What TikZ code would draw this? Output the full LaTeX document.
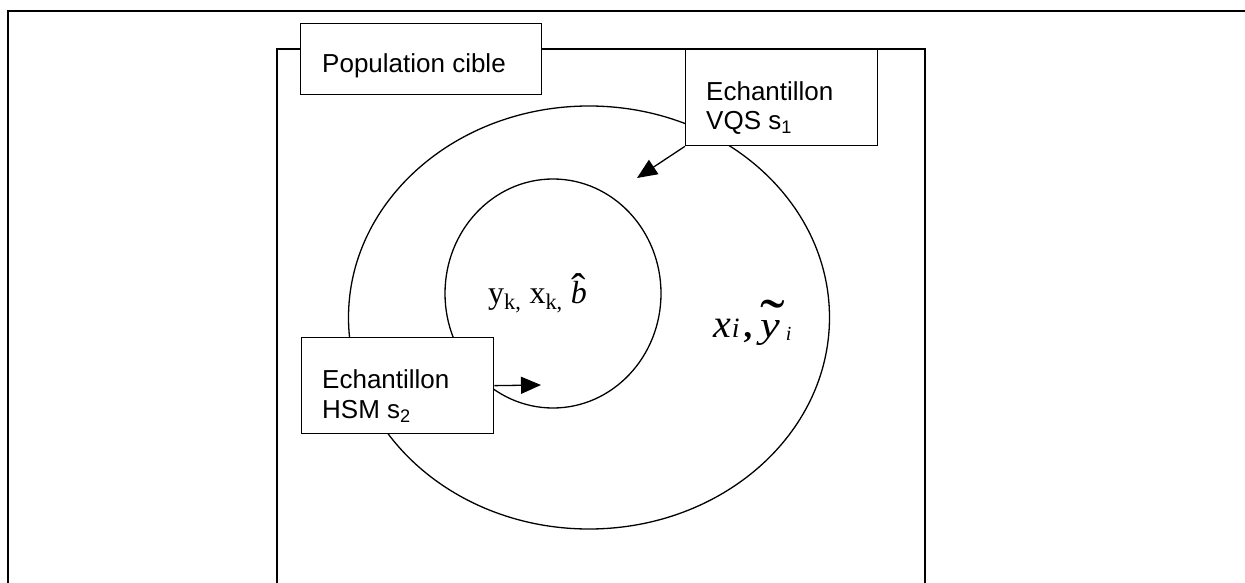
\documentclass[tikz,border=0pt]{standalone}
\usepackage{graphicx}
\usepackage{fontspec}
\setmainfont{Liberation Sans}
\newfontfamily\tnr{Liberation Serif}
\usetikzlibrary{arrows.meta}
\newcommand\myhatb{\makebox[0pt][l]{\hspace{0.5pt}\raisebox{21pt}{\scalebox{1.35}[1.3]{\raisebox{-0.5em}{\char"02C6}}}}\textit{b}}
\newcommand\mytildey{\makebox[0pt][l]{\hspace{0pt}\raisebox{25pt}{\scalebox{2.0}[1.7]{\raisebox{-0.49em}{\char"02DC}}}}\scalebox{1.2}[1]{\itshape y}}
\begin{document}
\begin{tikzpicture}[x=1pt,y=-1pt,
  box/.style={draw, fill=white, line width=1.3pt, inner sep=0pt, anchor=north west},
  lbl/.style={anchor=base west, inner sep=0pt, font=\fontsize{26}{30}\selectfont},
  arr/.style={line width=1.3pt, -{Triangle[length=20pt,width=17pt]}},
  thinline/.style={line width=1.3pt}]
\useasboundingbox (0,0) rectangle (1245,583);
\clip (0,0) rectangle (1245,583);
% frames
\draw[line width=2pt] (7.5,600) -- (7.5,11) -- (1260,11);
\draw[thinline] (277,600) -- (277,49) -- (925,49) -- (925,600);
% ellipses
\draw[thinline] (589,317.5) ellipse [x radius=240.5, y radius=211.5];
\draw[thinline] (553,293.5) ellipse [x radius=108, y radius=114.5];
% boxes
\node[box, minimum width=241pt, minimum height=71pt] (pop) at (300,23) {};
\node[box, minimum width=192pt, minimum height=96pt] (vqs) at (685,49) {};
\node[box, minimum width=192pt, minimum height=96pt] (hsm) at (301,337) {};
% box texts
\node[lbl] (popt) at (322,73) {Population cible};
\node[lbl] (vqst1) at (706,101) {Echantillon};
\node[lbl] (vqst2) at (706,130) {VQS s\textsubscript{1}};
\node[lbl] (hsmt1) at (322,388) {Echantillon};
\node[lbl] (hsmt2) at (322,418) {HSM s\textsubscript{2}};
% arrows
\coordinate (t1) at (637,178);
\coordinate (t2) at (541,385);
\draw[arr] (vqs.south west) -- (t1);
\draw[arr] (hsm.east) -- (t2);
% variables
\node[anchor=base west, inner sep=0pt] (inner) at (488,303)
  {\fontsize{32}{36}\selectfont\tnr y\textsubscript{k,}\ x\textsubscript{k,}\ \myhatb};
\node[anchor=base west, inner sep=0pt] (outer) at (713,337)
  {\tnr\fontsize{40}{44}\selectfont\itshape x\hspace{1pt}{\fontsize{28}{30}\selectfont i}\upshape\hspace{4pt}{\fontsize{34}{36}\selectfont\bfseries ,}\hspace{8pt}{\fontsize{37}{40}\selectfont\mytildey}\hspace{6pt}\raisebox{-3pt}{\fontsize{20}{22}\selectfont\itshape i}};
\end{tikzpicture}
\end{document}
